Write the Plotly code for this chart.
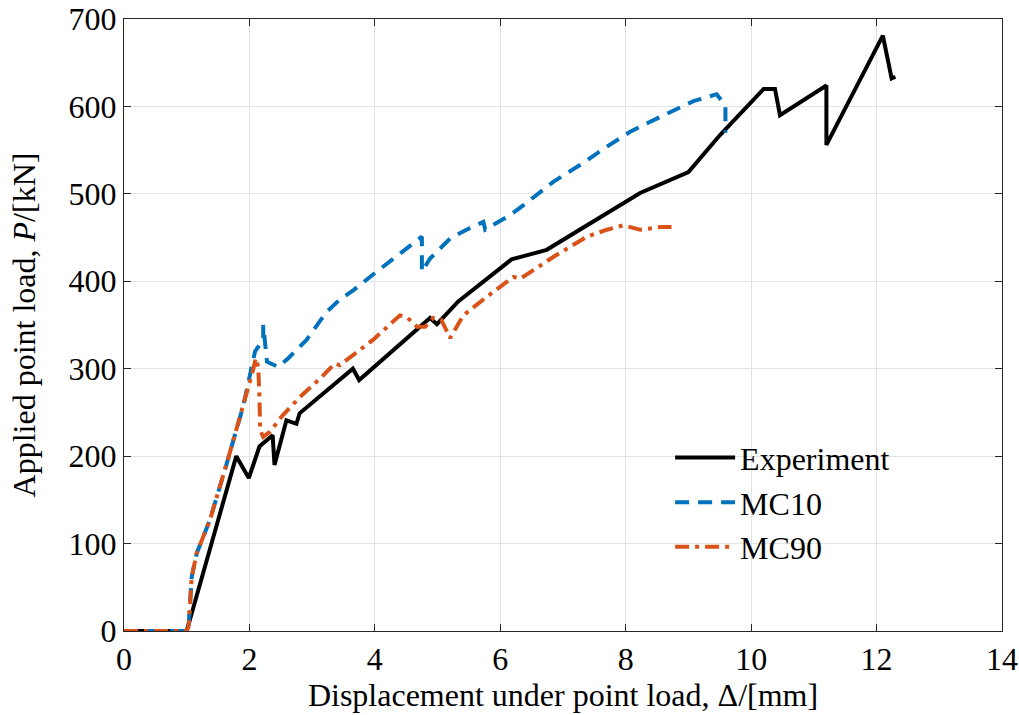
import plotly.graph_objects as go

# Experiment
exp_x = [0, 1.0, 1.79, 1.99, 2.16, 2.37, 2.40, 2.59, 2.75, 2.80, 3.65, 3.75, 4.88, 4.99, 5.33, 6.18, 6.74, 8.23, 9.0, 9.5, 10.2, 10.38, 10.46, 11.2, 11.2, 12.1, 12.24, 12.3]
exp_y = [0, 0, 200, 175, 211, 224, 190, 241, 237, 249, 300, 287, 358, 351, 377, 425, 436, 501, 525, 567, 620, 620, 590, 624, 556, 681, 632, 634]

# MC10
mc10_x = [0, 1.0, 1.03, 1.08, 1.16, 1.37, 1.64, 1.90, 2.09, 2.22, 2.22, 2.28, 2.46, 2.62, 2.91, 3.23, 3.44, 3.66, 4.03, 4.43, 4.75, 4.75, 4.88, 5.2, 5.46, 5.73, 5.76, 6.16, 6.37, 6.85, 7.27, 7.70, 8.07, 8.55, 9.08, 9.45, 9.53, 9.59, 9.59]
mc10_y = [0, 0, 5, 62, 89, 127, 192, 257, 320, 333, 350, 308, 302, 312, 333, 365, 379, 390, 411, 434, 451, 411, 426, 449, 459, 468, 459, 476, 487, 514, 533, 554, 571, 588, 606, 614, 607, 601, 570]

# MC90
mc90_x = [0, 1.0, 1.03, 1.08, 1.16, 1.37, 1.64, 1.90, 2.06, 2.10, 2.14, 2.16, 2.17, 2.22, 2.33, 2.51, 2.81, 3.13, 3.36, 3.44, 3.97, 4.40, 4.51, 4.67, 4.80, 4.93, 5.06, 5.20, 5.41, 5.78, 6.21, 6.32, 6.85, 7.38, 7.70, 7.96, 8.23, 8.55, 8.73]
mc90_y = [0, 0, 5, 62, 89, 127, 192, 257, 299, 312, 302, 268, 230, 222, 228, 245, 268, 289, 306, 304, 333, 361, 359, 348, 348, 358, 356, 335, 361, 382, 405, 403, 428, 451, 459, 464, 459, 462, 462]

x_ticks = [0, 2, 4, 6, 8, 10, 12, 14]
y_ticks = [0, 100, 200, 300, 400, 500, 600, 700]

fig = go.Figure()
fig.add_trace(go.Scatter(x=exp_x, y=exp_y, mode="lines", name="Experiment",
                         line=dict(color="black", width=4)))
fig.add_trace(go.Scatter(x=mc10_x, y=mc10_y, mode="lines", name="MC10",
                         line=dict(color="#0072BD", width=4, dash="14px,9px")))
fig.add_trace(go.Scatter(x=mc90_x, y=mc90_y, mode="lines", name="MC90",
                         line=dict(color="#D95319", width=4, dash="14px,6px,4px,6px")))

font_family = "Liberation Serif, Times New Roman, serif"
axis_common = dict(showline=True, linecolor="#262626", linewidth=1, mirror="allticks",
                   ticks="inside", ticklen=7, tickcolor="#262626",
                   showgrid=True, gridcolor="#e3e3e3", gridwidth=1, zeroline=False,
                   automargin=False,
                   tickfont=dict(family=font_family, size=32, color="black"))

fig.update_layout(
    width=1019, height=715,
    margin=dict(l=124, r=17, t=19, b=84),
    paper_bgcolor="white", plot_bgcolor="white",
    font=dict(family=font_family, color="black"),
    xaxis=dict(range=[0, 14], tickvals=x_ticks, ticktext=[str(v) for v in x_ticks],
               title=dict(text="Displacement under point load, Δ/[mm]",
                          font=dict(family=font_family, size=32), standoff=2),
               **axis_common),
    yaxis=dict(range=[0, 700], tickvals=y_ticks, ticktext=[str(v) for v in y_ticks],
               title=dict(text="Applied point load, <i>P</i>/[kN]",
                          font=dict(family=font_family, size=32), standoff=23),
               **axis_common),
    legend=dict(x=0.622, y=0.328, xanchor="left", yanchor="top",
                bgcolor="rgba(255,255,255,0)", borderwidth=0,
                font=dict(family=font_family, size=32), itemwidth=60,
                tracegroupgap=0),
    showlegend=True,
)

fig.write_html("out.html", config={"displayModeBar": False},
               post_script="document.body.style.margin='0';document.body.style.padding='0';")
